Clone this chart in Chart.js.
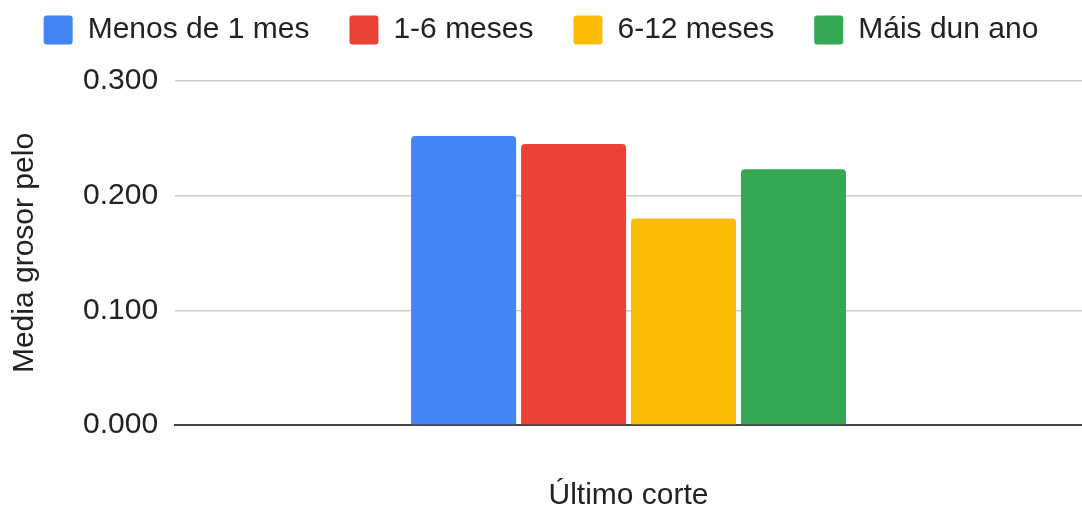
<!DOCTYPE html>
<html>
<head>
<meta charset="utf-8">
<script src="https://cdn.jsdelivr.net/npm/chart.js@4"></script>
<style>
  html, body { margin: 0; padding: 0; background: #fff; }
  #wrap { width: 1082px; height: 511px; }
</style>
</head>
<body>
<div id="wrap"><canvas id="chart"></canvas></div>
<script>
const categories = [""];
const seriesNames = ["Menos de 1 mes", "1-6 meses", "6-12 meses", "Máis dun ano"];
const seriesValues = [[0.252], [0.245], [0.180], [0.223]];
const seriesColours = ["#4285f4", "#ea4335", "#fbbc04", "#34a853"];
const yTicks = [0, 0.1, 0.2, 0.3];

const font = "'Liberation Sans', Arial, sans-serif";
const textColour = "#222222";

// legend padding also sets the gap between items, so pull the drawn legend up
const liftLegend = {
  id: "liftLegend",
  afterInit(chart) {
    const legend = chart.legend;
    const draw = legend.draw.bind(legend);
    legend.draw = function () {
      chart.ctx.save();
      chart.ctx.translate(-2, -26);
      draw();
      chart.ctx.restore();
    };
  },
};

const datasets = seriesNames.map((name, i) => {
  return {
    label: name,
    data: seriesValues[i],
    backgroundColor: seriesColours[i],
    borderRadius: { topLeft: 4, topRight: 4 },
    borderSkipped: "bottom",
    categoryPercentage: 0.485,
    barPercentage: 0.955,
  };
});

new Chart(document.getElementById("chart"), {
  type: "bar",
  data: { labels: categories, datasets: datasets },
  plugins: [liftLegend],
  options: {
    responsive: true,
    maintainAspectRatio: false,
    animation: false,
    layout: { padding: { left: 4, right: 0, top: 1, bottom: 0 } },
    plugins: {
      legend: {
        position: "top",
        labels: {
          font: { family: font, size: 30 },
          color: textColour,
          boxWidth: 29,
          boxHeight: 29,
          padding: 40,
          useBorderRadius: true,
          borderRadius: 3,
        },
      },
      tooltip: { enabled: false },
    },
    scales: {
      x: {
        grid: { display: false },
        border: { display: true, color: "#444444", width: 2 },
        ticks: { display: false },
        title: {
          display: true,
          text: "Último corte",
          font: { family: font, size: 30, lineHeight: 1 },
          color: textColour,
          padding: { top: 48, bottom: 0 },
        },
      },
      y: {
        min: 0,
        max: 0.3,
        afterBuildTicks: (axis) => {
          axis.ticks = yTicks.map((v) => ({ value: v }));
        },
        grid: { color: "#cccccc", lineWidth: 1.5, drawTicks: false },
        border: { display: false },
        ticks: {
          font: { family: font, size: 30 },
          color: textColour,
          padding: 17,
          callback: (v) => Number(v).toFixed(3),
        },
        title: {
          display: true,
          text: "Media grosor pelo",
          font: { family: font, size: 30, lineHeight: 1 },
          color: textColour,
          padding: { top: 6, bottom: 26 },
        },
      },
    },
  },
});
</script>
</body>
</html>
